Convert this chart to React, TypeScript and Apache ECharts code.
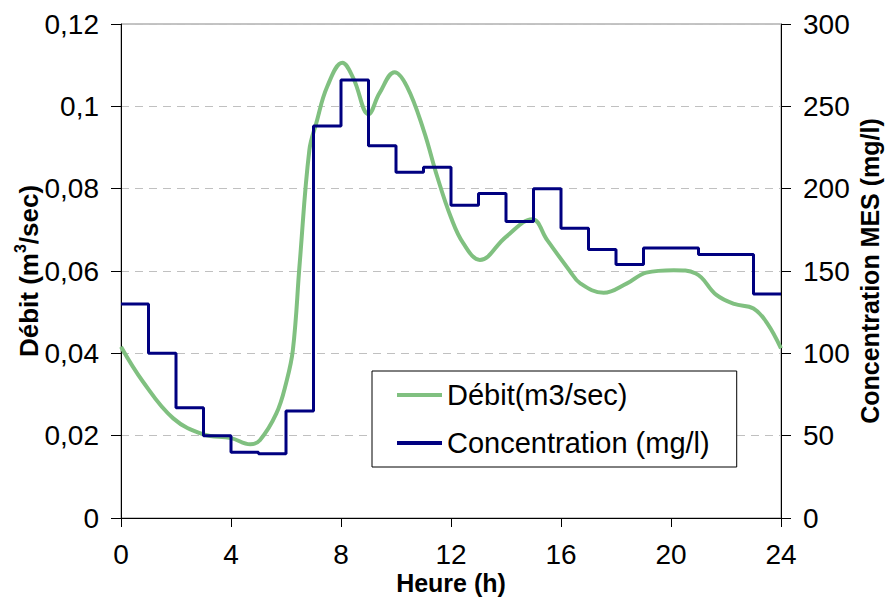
import React, { useEffect, useRef } from "react";
import * as echarts from "echarts";

const debitHours = [0, 0.8, 1.9, 3.0, 4.0, 4.7, 5.05, 5.65, 6.0, 6.25, 6.5, 6.85, 7.1, 7.5, 8.05, 8.45, 9.0, 9.4, 9.95, 10.4, 11.0, 11.5, 12.0, 12.45, 13.05, 14.0, 14.95, 15.5, 16.3, 16.7, 17.55, 18.4, 19.1, 20.1, 20.9, 21.65, 22.3, 23.0, 23.5, 24];
const debitValues = [0.0416, 0.0331, 0.0242, 0.0203, 0.0194, 0.0179, 0.0189, 0.0254, 0.0327, 0.0408, 0.062, 0.0894, 0.0959, 0.1048, 0.1106, 0.1068, 0.0981, 0.1032, 0.1083, 0.1048, 0.0943, 0.0829, 0.073, 0.0667, 0.0627, 0.0683, 0.0726, 0.0675, 0.0602, 0.057, 0.0547, 0.057, 0.0596, 0.0602, 0.0594, 0.0542, 0.052, 0.0509, 0.0473, 0.0412];

const concHours = [0, 1, 2, 3, 4, 5, 6, 7, 8, 9, 10, 11, 12, 13, 14, 15, 16, 17, 18, 19, 20, 21, 22, 23, 24];
const concValues = [130, 100, 67, 50, 40, 39, 65, 238, 266, 226, 210, 213, 190, 197, 180, 200, 176, 163, 154, 164, 164, 160, 160, 136, 136];

const seriesNames = ["Débit(m3/sec)", "Concentration (mg/l)"];
const FONT = "'Liberation Sans', Arial, sans-serif";

export default function App() {
  const ref = useRef<HTMLDivElement>(null);
  useEffect(() => {
    if (!ref.current) return;
    const chart = echarts.init(ref.current, undefined, { renderer: "svg" });
    chart.setOption({
      animation: false,
      backgroundColor: "#fff",
      textStyle: { fontFamily: FONT },
      grid: { left: 121, right: 105, top: 24, bottom: 80, show: true, borderColor: "#888", borderWidth: 1, containLabel: false, outerBoundsMode: "none" },
      legend: {
        data: [
          { name: seriesNames[0], icon: "rect", itemStyle: { color: "#80c080" } },
          { name: seriesNames[1], icon: "rect", itemStyle: { color: "#000080" } },
        ],
        orient: "vertical",
        left: 372,
        top: 371,
        padding: [9, 27, 9, 25],
        itemGap: 18,
        itemWidth: 45,
        itemHeight: 4,
        itemTextGap: 5,
        backgroundColor: "#fff",
        borderColor: "#000",
        borderWidth: 1,
        borderRadius: 0,
        textStyle: { fontSize: 29, color: "#000", fontFamily: FONT, lineHeight: 30 },
      },
      xAxis: {
        type: "value",
        min: 0,
        max: 24,
        interval: 4,
        name: "Heure (h)",
        nameLocation: "middle",
        nameGap: 53,
        nameMoveOverlap: false,
        nameTextStyle: { fontSize: 25, fontWeight: "bold", color: "#000", fontFamily: FONT, lineHeight: 24 },
        axisLine: { lineStyle: { color: "#000", width: 1 } },
        axisTick: { length: 9, lineStyle: { color: "#000" } },
        axisLabel: { fontSize: 28, color: "#000", margin: 24, lineHeight: 24, fontFamily: FONT },
        splitLine: { show: false },
      },
      yAxis: [
        {
          type: "value",
          min: 0,
          max: 0.12,
          interval: 0.02,
          position: "left",
          name: "{a|Débit (m}{s|3}{a|/sec)}",
          nameLocation: "middle",
          nameGap: 79,
          nameMoveOverlap: false,
          nameRotate: 90,
          nameTextStyle: {
            rich: {
              a: { fontSize: 26, fontWeight: "bold", color: "#000", fontFamily: FONT, lineHeight: 30, verticalAlign: "bottom" },
              s: { fontSize: 16, fontWeight: "bold", color: "#000", fontFamily: FONT, lineHeight: 30, verticalAlign: "top" },
            },
          },
          axisLine: { show: true, lineStyle: { color: "#000", width: 1 } },
          axisTick: { show: true, length: 10, lineStyle: { color: "#000" } },
          axisLabel: {
            fontSize: 28,
            color: "#000",
            margin: 22,
            fontFamily: FONT,
            formatter: (v: number) => String(Math.round(v * 100) / 100).replace(".", ","),
          },
          splitLine: { show: true, lineStyle: { color: "#c0c0c0", type: [8, 6], width: 1 } },
        },
        {
          type: "value",
          min: 0,
          max: 300,
          interval: 50,
          position: "right",
          name: "Concentration MES (mg/l)",
          nameLocation: "middle",
          nameGap: 76,
          nameMoveOverlap: false,
          nameRotate: 90,
          nameTextStyle: { fontSize: 25, fontWeight: "bold", color: "#000", fontFamily: FONT },
          axisLine: { show: true, lineStyle: { color: "#000", width: 1 } },
          axisTick: { show: true, length: 10, lineStyle: { color: "#000" } },
          axisLabel: { fontSize: 28, color: "#000", margin: 22, fontFamily: FONT },
          splitLine: { show: false },
        },
      ],
      series: [
        {
          name: seriesNames[0],
          type: "line",
          yAxisIndex: 0,
          smooth: 0.4,
          symbol: "none",
          data: debitHours.map((h, i) => [h, debitValues[i]]),
          lineStyle: { color: "#80c080", width: 4 },
          itemStyle: { color: "#80c080" },
        },
        {
          name: seriesNames[1],
          type: "line",
          yAxisIndex: 1,
          step: "end",
          symbol: "none",
          data: concHours.map((h, i) => [h, concValues[i]]),
          lineStyle: { color: "#000080", width: 3 },
          itemStyle: { color: "#000080" },
        },
      ],
    });
    return () => chart.dispose();
  }, []);
  return <div ref={ref} style={{ position: "fixed", left: 0, top: 0, width: 886, height: 598 }} />;
}
